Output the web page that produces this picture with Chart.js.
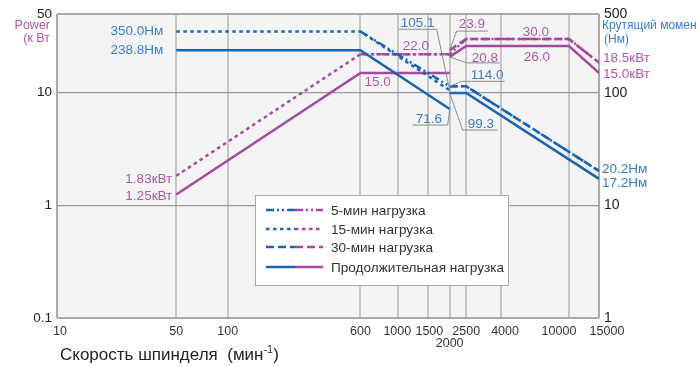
<!DOCTYPE html>
<html>
<head>
<meta charset="utf-8">
<script src="https://cdn.jsdelivr.net/npm/chart.js@4.4.1/dist/chart.umd.min.js"></script>
<style>
  html, body { margin: 0; padding: 0; background: #fff; }
  #wrap { width: 699px; height: 367px; position: relative; }
</style>
</head>
<body>
<div id="wrap"><canvas id="chart"></canvas></div>
<script>
// axis ticks
const speedTicks = [10, 50, 100, 600, 1000, 1500, 2000, 2500, 4000, 10000, 15000];
const powerTicks = [0.1, 1, 10, 50];
const torqueTicks = [1, 10, 100, 500];

// power, kW
const contPowerRpm = [50, 600, 2000, 2000, 2000, 2500, 10000, 15000];
const contPower = [1.25, 15.0, 15.0, null, 20.8, 26.0, 26.0, 15.0];
const min15PowerRpm = [50, 600, 2000];
const min15Power = [1.83, 22.0, 22.0];
const min5PowerRpm = [600, 2000, 2500, 10000, 15000];
const min5Power = [22.0, 22.0, 30.0, 30.0, 18.5];
const min30PowerRpm = [2000, 2500, 10000, 15000];
const min30Power = [23.9, 30.0, 30.0, 18.5];

// torque, Nm
const contTorqueRpm = [50, 600, 2000, 2000, 2000, 2500, 15000];
const contTorque = [238.8, 238.8, 71.6, null, 99.3, 99.3, 17.2];
const min15TorqueRpm = [50, 600, 2000];
const min15Torque = [350.0, 350.0, 105.1];
const min5TorqueRpm = [600, 2000, 2500, 15000];
const min5Torque = [350.0, 114.0, 114.0, 20.2];
const min30TorqueRpm = [2000, 2500, 15000];
const min30Torque = [114.0, 114.0, 20.2];

const legendLabels = ['5-мин нагрузка', '15-мин нагрузка', '30-мин нагрузка', 'Продолжительная нагрузка'];

const BLUE = '#1865b3';
const MAGENTA = '#a6489f';
const BLUE_TXT = '#3a7cc4';
const MAG_TXT = '#ad58a7';
const FONT = '"Liberation Sans", Arial, sans-serif';

const DASH_5 = [8, 3, 2, 3, 2, 3];
const DASH_15 = [3.5, 3.5];
const DASH_30 = [8, 4];

function pts(xs, ys) {
    return xs.map((x, i) => ({ x: x, y: ys[i] }));
}

function line(label, xs, ys, color, dash, axis) {
    return {
        label: label,
        data: pts(xs, ys),
        borderColor: color,
        borderWidth: 2.5,
        borderDash: dash,
        pointRadius: 0,
        tension: 0,
        spanGaps: false,
        fill: false,
        yAxisID: axis
    };
}

const fmt = v => v.toFixed(1);

// text labels: anchor in data units, offsets in px
const notes = [
    { t: fmt(min15Torque[0]) + 'Нм', x: 50, v: min15Torque[0], ax: 'y2', c: BLUE_TXT, tx: -13, ty: 0, align: 'right' },
    { t: fmt(contTorque[0]) + 'Нм', x: 50, v: contTorque[0], ax: 'y2', c: BLUE_TXT, tx: -13, ty: 0, align: 'right' },
    { t: min15Power[0].toFixed(2) + 'кВт', x: 50, v: min15Power[0], ax: 'y', c: MAG_TXT, tx: -4, ty: 3, align: 'right' },
    { t: contPower[0].toFixed(2) + 'кВт', x: 50, v: contPower[0], ax: 'y', c: MAG_TXT, tx: -4, ty: 2, align: 'right' },
    { t: fmt(contPower[1]), x: 600, v: contPower[1], ax: 'y', c: MAG_TXT, tx: 4, ty: 9, align: 'left' },
    { t: fmt(min15Power[2]), x: 2000, v: min15Power[2], ax: 'y', c: MAG_TXT, tx: -47, ty: -8, align: 'left' },
    { t: fmt(min15Torque[2]), x: 2000, v: min15Torque[2], ax: 'y2', c: BLUE_TXT, tx: -49, ty: -67, align: 'left', ul: [-51, -13, -61], lead: [-13, -61] },
    { t: fmt(contTorque[2]), x: 2000, v: contTorque[2], ax: 'y2', c: BLUE_TXT, tx: -34, ty: 10, align: 'left', ul: [-37, -2, 16], lead: [-2, 16] },
    { t: fmt(contTorque[4]), x: 2000, v: contTorque[4], ax: 'y2', c: BLUE_TXT, tx: 18, ty: 31, align: 'left', ul: [13, 48, 37], lead: [13, 37] },
    { t: fmt(min30Torque[0]), x: 2000, v: min30Torque[0], ax: 'y2', c: BLUE_TXT, tx: 21, ty: -11, align: 'left', ul: [12, 55, -5], lead: [12, -5] },
    { t: fmt(min30Power[0]), x: 2000, v: min30Power[0], ax: 'y', c: MAG_TXT, tx: 9, ty: -26, align: 'left', ul: [7, 38, -19], lead: [7, -19] },
    { t: fmt(contPower[4]), x: 2000, v: contPower[4], ax: 'y', c: MAG_TXT, tx: 22, ty: 1, align: 'left', ul: [17, 50, 6], lead: [17, 6] },
    { t: fmt(min30Power[1]), x: 10000, v: min30Power[1], ax: 'y', c: MAG_TXT, tx: -33, ty: -7, align: 'center' },
    { t: fmt(contPower[6]), x: 10000, v: contPower[6], ax: 'y', c: MAG_TXT, tx: -32, ty: 11, align: 'center' },
    { t: fmt(min30Power[3]) + 'кВт', x: 15000, v: min30Power[3], ax: 'y', c: MAG_TXT, tx: 4, ty: -4, align: 'left' },
    { t: fmt(contPower[7]) + 'кВт', x: 15000, v: contPower[7], ax: 'y', c: MAG_TXT, tx: 4, ty: 1, align: 'left' },
    { t: fmt(min30Torque[2]) + 'Нм', x: 15000, v: min30Torque[2], ax: 'y2', c: BLUE_TXT, tx: 3, ty: -2, align: 'left' },
    { t: fmt(contTorque[6]) + 'Нм', x: 15000, v: contTorque[6], ax: 'y2', c: BLUE_TXT, tx: 3, ty: 4, align: 'left' }
];

// nudges so the crowded speed labels don't collide
const speedNudge = { 10: 3, 1000: -1, 1500: 1, 4000: 4, 10000: -10, 15000: 8 };

const plotBackground = {
    id: 'plotBackground',
    beforeDraw(chart) {
        const { ctx, chartArea: a } = chart;
        ctx.save();
        ctx.fillStyle = '#f4f4f4';
        ctx.fillRect(a.left, a.top, a.right - a.left, a.bottom - a.top);
        ctx.restore();
    }
};

const extras = {
    id: 'extras',
    afterDraw(chart) {
        const ctx = chart.ctx;
        const xs = chart.scales.x;
        ctx.save();
        ctx.textBaseline = 'middle';

        // speed tick labels
        ctx.font = '12.5px ' + FONT;
        ctx.fillStyle = '#333';
        ctx.textAlign = 'center';
        speedTicks.forEach(v => {
            const x = xs.getPixelForValue(v) + (speedNudge[v] || 0);
            ctx.fillText(String(v), x, v === 2000 ? 344 : 332);
        });

        // point labels
        ctx.font = '13.5px ' + FONT;
        notes.forEach(n => {
            const ax = xs.getPixelForValue(n.x);
            const ay = chart.scales[n.ax].getPixelForValue(n.v);
            if (n.ul) {
                ctx.strokeStyle = '#8c8c8c';
                ctx.lineWidth = 1;
                ctx.beginPath();
                ctx.moveTo(ax + n.ul[0], ay + n.ul[2]);
                ctx.lineTo(ax + n.ul[1], ay + n.ul[2]);
                ctx.moveTo(ax + n.lead[0], ay + n.lead[1]);
                ctx.lineTo(ax, ay);
                ctx.stroke();
            }
            ctx.fillStyle = n.c;
            ctx.textAlign = n.align;
            ctx.fillText(n.t, ax + n.tx, ay + n.ty);
        });

        // axis titles
        ctx.font = '12.5px ' + FONT;
        ctx.fillStyle = MAG_TXT;
        ctx.textAlign = 'right';
        ctx.fillText('Power', 50, 26);
        ctx.fillText('(к Вт', 50, 39);
        ctx.font = '12px ' + FONT;
        ctx.fillStyle = BLUE_TXT;
        ctx.textAlign = 'left';
        ctx.fillText('Крутящий момен', 602, 26);
        ctx.fillText('(Нм)', 604, 40);

        ctx.fillStyle = '#222';
        ctx.font = '17px ' + FONT;
        const title = 'Скорость шпинделя  (мин';
        ctx.fillText(title, 60, 355);
        let tx = 60 + ctx.measureText(title).width;
        ctx.font = '10px ' + FONT;
        ctx.fillText('-1', tx + 0.5, 350);
        tx += ctx.measureText('-1').width + 1;
        ctx.font = '17px ' + FONT;
        ctx.fillText(')', tx, 355);

        // legend
        const lx = 255, ly = 195, lw = 253, lh = 90;
        ctx.fillStyle = '#fff';
        ctx.fillRect(lx, ly, lw, lh);
        ctx.strokeStyle = '#a8a8a8';
        ctx.lineWidth = 1;
        ctx.strokeRect(lx + 0.5, ly + 0.5, lw, lh);
        const dashes = [DASH_5, DASH_15, DASH_30, []];
        const rowY = [211, 230, 248, 268];
        ctx.font = '13.6px ' + FONT;
        legendLabels.forEach((lab, i) => {
            const y = rowY[i];
            ctx.lineWidth = 2.5;
            ctx.setLineDash(dashes[i]);
            ctx.strokeStyle = BLUE;
            ctx.beginPath();
            ctx.moveTo(266, y - 1);
            ctx.lineTo(295, y - 1);
            ctx.stroke();
            ctx.strokeStyle = MAGENTA;
            ctx.beginPath();
            ctx.moveTo(295, y - 1);
            ctx.lineTo(323, y - 1);
            ctx.stroke();
            ctx.setLineDash([]);
            ctx.fillStyle = '#333';
            ctx.textAlign = 'left';
            ctx.fillText(lab, 331, y);
        });
        ctx.restore();
    }
};

function fixTicks(list) {
    return axis => { axis.ticks = list.map(v => ({ value: v })); };
}

new Chart(document.getElementById('chart'), {
    type: 'line',
    data: {
        datasets: [
            line('cont-T', contTorqueRpm, contTorque, BLUE, [], 'y2'),
            line('30-T', min30TorqueRpm, min30Torque, BLUE, DASH_30, 'y2'),
            line('15-T', min15TorqueRpm, min15Torque, BLUE, DASH_15, 'y2'),
            line('5-T', min5TorqueRpm, min5Torque, BLUE, DASH_5, 'y2'),
            line('cont-P', contPowerRpm, contPower, MAGENTA, [], 'y'),
            line('30-P', min30PowerRpm, min30Power, MAGENTA, DASH_30, 'y'),
            line('15-P', min15PowerRpm, min15Power, MAGENTA, DASH_15, 'y'),
            line('5-P', min5PowerRpm, min5Power, MAGENTA, DASH_5, 'y')
        ]
    },
    options: {
        responsive: true,
        maintainAspectRatio: false,
        animation: false,
        devicePixelRatio: 1,
        layout: { padding: { top: 14, left: 0, right: 0, bottom: 0 } },
        plugins: {
            legend: { display: false },
            tooltip: { enabled: false }
        },
        scales: {
            x: {
                type: 'logarithmic',
                min: 10,
                max: 15000,
                afterBuildTicks: fixTicks(speedTicks),
                afterFit: s => { s.height = 49; },
                border: { display: false },
                grid: {
                    drawTicks: false,
                    color: c => (c.tick && (c.tick.value === 10 || c.tick.value === 15000)) ? '#aaaaaa' : '#c6c6c6',
                    lineWidth: 2
                },
                ticks: { display: false, autoSkip: false }
            },
            y: {
                type: 'logarithmic',
                position: 'left',
                min: 0.1,
                max: 50,
                afterBuildTicks: fixTicks(powerTicks),
                afterFit: s => { s.width = 57; },
                border: { display: false },
                grid: {
                    drawTicks: false,
                    color: c => (c.tick && (c.tick.value === 0.1 || c.tick.value === 50)) ? '#aaaaaa' : '#9a9a9a',
                    lineWidth: c => (c.tick && (c.tick.value === 0.1 || c.tick.value === 50)) ? 2 : 1.3
                },
                ticks: {
                    padding: 5,
                    color: '#222',
                    font: { size: 13.5, family: FONT },
                    callback: v => String(v)
                }
            },
            y2: {
                type: 'logarithmic',
                position: 'right',
                min: 1,
                max: 500,
                afterBuildTicks: fixTicks(torqueTicks),
                afterFit: s => { s.width = 100; },
                border: { display: false },
                grid: { display: false, drawTicks: false },
                ticks: {
                    padding: 5,
                    color: '#222',
                    font: { size: 14, family: FONT },
                    callback: v => String(v)
                }
            }
        }
    },
    plugins: [plotBackground, extras]
});
</script>
</body>
</html>
